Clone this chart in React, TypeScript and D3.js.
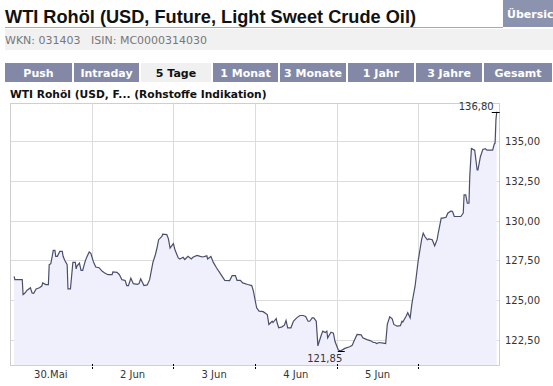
import React, { useRef, useEffect } from "react";
import * as d3 from "d3";

// time in days since 30.Mai 00:00 (chart spans 6 trading days), 10 per row
const times = [
  0.05, 0.06, 0.11, 0.15, 0.16, 0.18, 0.21, 0.25, 0.27, 0.29,
  0.32, 0.36, 0.39, 0.4, 0.44, 0.47, 0.48, 0.5, 0.53, 0.55,
  0.56, 0.58, 0.61, 0.64, 0.65, 0.67, 0.7, 0.71, 0.74, 0.77,
  0.8, 0.81, 0.82, 0.85, 0.87, 0.89, 0.92, 0.94, 0.97, 0.99,
  1.02, 1.05, 1.09, 1.13, 1.16, 1.2, 1.25, 1.26, 1.31, 1.34,
  1.37, 1.41, 1.43, 1.45, 1.48, 1.51, 1.56, 1.58, 1.6, 1.63,
  1.64, 1.68, 1.71, 1.75, 1.78, 1.8, 1.82, 1.86, 1.87, 1.92,
  1.94, 1.96, 2.0, 2.02, 2.06, 2.08, 2.12, 2.14, 2.18, 2.22,
  2.24, 2.29, 2.33, 2.36, 2.41, 2.42, 2.46, 2.49, 2.53, 2.57,
  2.63, 2.69, 2.72, 2.76, 2.78, 2.82, 2.85, 2.91, 2.96, 2.98,
  3.0, 3.02, 3.05, 3.1, 3.15, 3.17, 3.21, 3.22, 3.26, 3.27,
  3.29, 3.33, 3.36, 3.38, 3.4, 3.44, 3.47, 3.51, 3.55, 3.59,
  3.62, 3.65, 3.67, 3.7, 3.72, 3.75, 3.77, 3.81, 3.83, 3.86,
  3.88, 3.89, 3.93, 3.96, 3.98, 4.02, 4.05, 4.1, 4.16, 4.19,
  4.21, 4.25, 4.3, 4.32, 4.37, 4.41, 4.45, 4.47, 4.49, 4.52,
  4.57, 4.6, 4.62, 4.65, 4.68, 4.7, 4.74, 4.78, 4.8, 4.81,
  4.85, 4.87, 4.9, 4.92, 4.93, 4.96, 4.98, 5.0, 5.02, 5.04,
  5.06, 5.08, 5.11, 5.13, 5.17, 5.2, 5.23, 5.24, 5.28, 5.3,
  5.34, 5.36, 5.4, 5.42, 5.44, 5.47, 5.52, 5.55, 5.56, 5.58,
  5.6, 5.62, 5.63, 5.65, 5.67, 5.69, 5.72, 5.73, 5.76, 5.79,
  5.82, 5.84, 5.88, 5.91, 5.93, 5.94, 5.95, 5.96,
];
const prices = [
  126.51, 126.3, 126.3, 126.3, 125.37, 125.45, 125.64, 125.79, 125.47, 125.45,
  125.72, 125.79, 125.9, 126.1, 125.99, 125.99, 127.24, 127.3, 128.13, 128.13,
  127.76, 127.76, 128.07, 128.07, 127.76, 127.51, 127.24, 125.72, 125.72, 127.38,
  127.38, 126.97, 127.15, 127.34, 126.88, 126.88, 127.44, 127.71, 128.03, 127.95,
  127.44, 127.09, 127.05, 126.82, 126.72, 126.61, 126.61, 126.78, 126.76, 126.61,
  126.3, 126.25, 125.93, 125.93, 126.39, 126.05, 126.0, 126.05, 126.35, 126.05,
  125.93, 125.97, 126.3, 127.38, 127.86, 128.28, 128.8, 129.0, 129.15, 129.12,
  128.85, 128.28, 128.55, 128.17, 127.66, 127.59, 127.7, 127.56, 127.76, 127.6,
  127.7, 127.82, 127.76, 127.72, 127.79, 127.6, 127.75, 127.38, 127.03, 126.72,
  126.26, 126.24, 126.55, 126.55, 126.26, 126.26, 126.1, 126.0, 125.93, 125.6,
  125.06, 124.54, 124.33, 124.3, 124.12, 123.5, 123.7, 123.62, 123.87, 123.62,
  123.29, 123.35, 123.45, 123.75, 123.29, 123.29, 123.7, 123.91, 124.06, 124.06,
  124.0, 123.7, 123.7, 123.91, 123.91, 123.7, 122.16, 122.81, 123.08, 123.0,
  123.08, 122.66, 123.01, 122.95, 122.43, 121.9, 121.85, 122.0, 122.1, 122.19,
  122.43, 122.87, 122.85, 122.66, 122.55, 122.49, 122.37, 122.37, 122.3, 122.37,
  122.33, 122.3, 123.5, 123.98, 123.85, 123.5, 123.39, 123.42, 123.7, 123.65,
  124.01, 124.23, 123.91, 124.74, 125.06, 125.89, 126.72, 127.55, 128.17, 128.8,
  129.21, 129.0, 128.8, 128.85, 128.8, 128.42, 128.8, 129.11, 130.15, 130.15,
  130.2, 130.46, 130.6, 130.55, 130.25, 130.25, 130.25, 130.46, 131.6, 131.6,
  131.08, 131.08, 132.79, 134.51, 134.45, 134.4, 133.16, 133.16, 133.99, 134.45,
  134.5, 134.4, 134.4, 134.4, 134.78, 134.85, 136.28, 136.8,
];

const yTicks = [122.5, 125, 127.5, 130, 132.5, 135];
const dayLabels = ["30.Mai", "2 Jun", "3 Jun", "4 Jun", "5 Jun"];
const tabs = ["Push", "Intraday", "5 Tage", "1 Monat", "3 Monate", "1 Jahr", "3 Jahre", "Gesamt"];
const tabEdges = [5, 74, 141, 213, 280, 348, 416, 484, 554];
const activeTab = "5 Tage";

const fmt = (v: number) => d3.format(".2f")(v).replace(".", ",");

const App: React.FC = () => {
  const svgRef = useRef<SVGSVGElement | null>(null);

  useEffect(() => {
    if (!svgRef.current) return;
    const svg = d3.select(svgRef.current);
    svg.selectAll("*").remove();

    const font = "Verdana, 'DejaVu Sans', sans-serif";
    const small = "Tahoma, 'DejaVu Sans', sans-serif";

    // header
    svg.append("text").attr("x", 5).attr("y", 23)
      .attr("font-family", "Arial, 'Liberation Sans', sans-serif").attr("font-size", 18).attr("font-weight", "bold")
      .attr("textLength", 411).attr("lengthAdjust", "spacingAndGlyphs")
      .attr("fill", "#111").text("WTI Rohöl (USD, Future, Light Sweet Crude Oil)");
    svg.append("line").attr("x1", 5).attr("x2", 503).attr("y1", 27.5).attr("y2", 27.5).attr("stroke", "#aaa");
    svg.append("rect").attr("x", 503).attr("y", 0).attr("width", 50).attr("height", 27).attr("fill", "#8c93ae");
    svg.append("text").attr("x", 507).attr("y", 18).attr("font-family", font).attr("font-size", 11)
      .attr("font-weight", "bold").attr("fill", "#fff").text("Übersicht");
    svg.append("rect").attr("x", 5).attr("y", 29).attr("width", 548).attr("height", 21).attr("fill", "#f1f1f1");
    svg.append("text").attr("x", 5).attr("y", 44).attr("font-family", small)
      .attr("font-size", 11).attr("fill", "#777").attr("xml:space", "preserve")
      .text("WKN: 031403   ISIN: MC0000314030");

    // tabs
    const tg = svg.append("g");
    tabs.forEach((t, i) => {
      const x0 = tabEdges[i];
      const x1 = tabEdges[i + 1] - 2;
      const active = t === activeTab;
      tg.append("rect").attr("x", x0).attr("y", 63).attr("width", x1 - x0).attr("height", 19)
        .attr("fill", active ? "#f0f0f0" : "#8288a6");
      tg.append("text").attr("x", (x0 + x1) / 2).attr("y", 77).attr("text-anchor", "middle")
        .attr("font-family", font).attr("font-size", 11).attr("font-weight", "bold")
        .attr("fill", active ? "#111" : "#fff").text(t);
    });

    svg.append("text").attr("x", 10).attr("y", 98).attr("font-family", font).attr("font-size", 10.7)
      .attr("font-weight", "bold").attr("fill", "#111").text("WTI Rohöl (USD, F... (Rohstoffe Indikation)");

    // chart
    const left = 10, right = 500, top = 103, bottom = 366;
    const x = d3.scaleLinear().domain([0, 6]).range([left, right]);
    const y = d3.scaleLinear().domain([120.9, 137.35]).range([bottom, top]);

    const g = svg.append("g");
    g.selectAll(".hg").data(yTicks).join("line")
      .attr("x1", left).attr("x2", right)
      .attr("y1", (d) => Math.round(y(d)) + 0.5).attr("y2", (d) => Math.round(y(d)) + 0.5)
      .attr("stroke", "#dcdcdc");
    g.selectAll(".vg").data(d3.range(1, 6)).join("line")
      .attr("x1", (d) => Math.round(x(d)) + 0.5).attr("x2", (d) => Math.round(x(d)) + 0.5)
      .attr("y1", top).attr("y2", bottom).attr("stroke", "#dcdcdc");

    const pts = times.map((t, i) => [t, prices[i]] as [number, number]);
    const area = d3.area<[number, number]>().x((d) => x(d[0])).y0(bottom).y1((d) => y(d[1]));
    const line = d3.line<[number, number]>().x((d) => x(d[0])).y((d) => y(d[1]));
    g.append("path").attr("d", area(pts)).attr("fill", "#f0f0fc");
    g.append("path").attr("d", line(pts)).attr("fill", "none").attr("stroke", "#4a4e6c").attr("stroke-width", 1.2);

    // frame
    g.append("rect").attr("x", left + 0.5).attr("y", top + 0.5).attr("width", right - left - 1)
      .attr("height", bottom - top - 1).attr("fill", "none").attr("stroke", "#cfcfcf");

    // axes
    g.selectAll(".yl").data(yTicks).join("text")
      .attr("x", 505).attr("y", (d) => y(d) + 4).attr("font-family", small)
      .attr("font-size", 10).attr("fill", "#333").text((d) => fmt(d));
    g.selectAll(".xt").data(d3.range(1, 6)).join("line")
      .attr("x1", (d) => Math.round(x(d)) + 0.5).attr("x2", (d) => Math.round(x(d)) + 0.5)
      .attr("y1", bottom - 2).attr("y2", bottom + 3).attr("stroke", "#000").attr("stroke-dasharray", "2,1");
    g.selectAll(".xl").data(dayLabels).join("text")
      .attr("x", (_, i) => x(i + 0.5)).attr("y", 378).attr("text-anchor", "middle")
      .attr("font-family", small).attr("font-size", 10).attr("fill", "#333")
      .text((d) => d);

    // max / min markers
    const iMax = d3.maxIndex(prices);
    const iMin = d3.minIndex(prices);
    const mx = x(times[iMax]), my = Math.round(y(prices[iMax])) + 0.5;
    g.append("line").attr("x1", mx - 5).attr("x2", mx + 3).attr("y1", my).attr("y2", my).attr("stroke", "#000");
    g.append("text").attr("x", mx - 3).attr("y", my - 3).attr("text-anchor", "end")
      .attr("font-family", small).attr("font-size", 10).attr("fill", "#333")
      .text(fmt(prices[iMax]));
    const nx = x(times[iMin]), ny = Math.round(y(prices[iMin])) + 0.5;
    g.append("line").attr("x1", nx - 3).attr("x2", nx + 4).attr("y1", ny).attr("y2", ny).attr("stroke", "#000");
    g.append("text").attr("x", nx - 16).attr("y", ny + 10).attr("text-anchor", "middle")
      .attr("font-family", small).attr("font-size", 10).attr("fill", "#333")
      .text(fmt(prices[iMin]));
  }, []);

  return (
    <svg ref={svgRef} width={553} height={386} style={{ position: "absolute", left: 0, top: 0, background: "#fff" }} />
  );
};

export default App;
